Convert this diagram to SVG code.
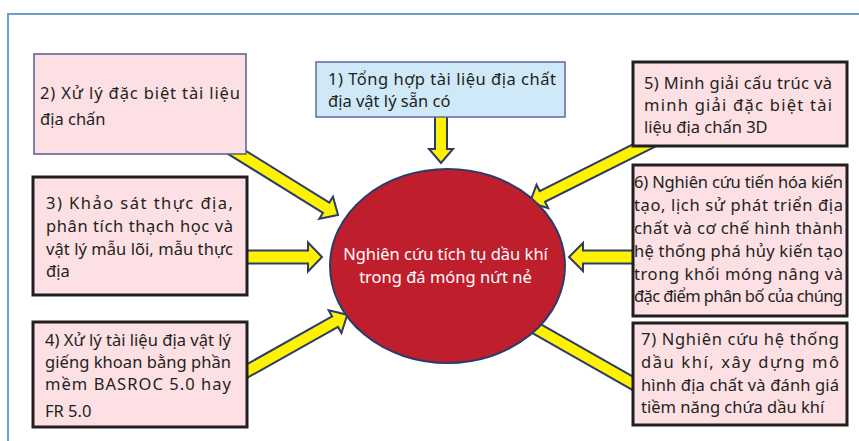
<svg xmlns="http://www.w3.org/2000/svg" width="859" height="441" viewBox="0 0 859 441">
<style>
text{font-family:"Noto Sans","DejaVu Sans",sans-serif;font-size:16.5px;fill:#231f20}
.pink{fill:#fde0e3}
.thick{stroke:#231f20;stroke-width:3}
.thin{stroke:#5d5a8c;stroke-width:1.5}
.arrow{fill:#fff200;stroke:#2b3c6b;stroke-width:2;stroke-linejoin:miter}
.white{fill:#ffffff}
</style>
<rect width="859" height="441" fill="#ffffff"/>
<path d="M8,441 V14 H859" fill="none" stroke="#6a9fd0" stroke-width="2"/>
<g id="connectors">
<polygon class="arrow" transform="translate(441,112) rotate(90)" points="0,-6 37,-6 37,-12 51,0 37,12 37,6 0,6"/>
<polygon class="arrow" transform="translate(225,145) rotate(31.8)" points="0,-6 119,-6 119,-13 133,0 119,13 119,6 0,6"/>
<polygon class="arrow" transform="translate(240,257) rotate(0)" points="0,-6.5 68,-6.5 68,-14.5 82,0 68,14.5 68,6.5 0,6.5"/>
<polygon class="arrow" transform="translate(240,375) rotate(-29.3)" points="0,-6 109,-6 109,-13 123,0 109,13 109,6 0,6"/>
<polygon class="arrow" transform="translate(655,140) rotate(153.4)" points="0,-6 126,-6 126,-13 140,0 126,13 126,6 0,6"/>
<polygon class="arrow" transform="translate(640,257) rotate(180)" points="0,-6.5 57,-6.5 57,-14 71,0 57,14 57,6.5 0,6.5"/>
<polygon class="arrow" transform="translate(641,388) rotate(209.6)" points="0,-6 126,-6 126,-13 140,0 126,13 126,6 0,6"/>
</g>
<g id="node-center">
<ellipse cx="447.5" cy="266" rx="117.5" ry="97" fill="#bf1e2d" stroke="#2b3c6b" stroke-width="2"/>
<text class="white" x="445.5" y="260" text-anchor="middle">Nghiên cứu tích tụ dầu khí</text>
<text class="white" x="445.5" y="283" text-anchor="middle">trong đá móng nứt nẻ</text>
</g>
<g id="node-1">
<rect x="316" y="62" width="249" height="55" fill="#cfe9f8" stroke="#5d6b9a" stroke-width="1.5"/>
<text x="328" y="85" textLength="228" lengthAdjust="spacing">1) Tổng hợp tài liệu địa chất</text>
<text x="328" y="107">địa vật lý sẵn có</text>
</g>
<g id="node-2">
<rect class="pink thin" x="34" y="54" width="212" height="100"/>
<text x="40" y="99" textLength="200" lengthAdjust="spacing">2) Xử lý đặc biệt tài liệu</text>
<text x="40" y="125">địa chấn</text>
</g>
<g id="node-3">
<rect class="pink thick" x="33" y="177" width="214" height="118"/>
<text x="46" y="209" textLength="187" lengthAdjust="spacing">3) Khảo sát thực địa,</text>
<text x="46" y="232" textLength="187" lengthAdjust="spacing">phân tích thạch học và</text>
<text x="46" y="255" textLength="187" lengthAdjust="spacing">vật lý mẫu lõi, mẫu thực</text>
<text x="46" y="277">địa</text>
</g>
<g id="node-4">
<rect class="pink thick" x="33" y="322" width="214" height="105"/>
<text x="45" y="346" textLength="186" lengthAdjust="spacing">4) Xử lý tài liệu địa vật lý</text>
<text x="45" y="368" textLength="186" lengthAdjust="spacing">giếng khoan bằng phần</text>
<text x="45" y="390" textLength="186" lengthAdjust="spacing">mềm BASROC 5.0 hay</text>
<text x="45" y="417">FR 5.0</text>
</g>
<g id="node-5">
<rect class="pink thick" x="633" y="62" width="214" height="84"/>
<text x="644" y="89" textLength="188" lengthAdjust="spacing">5) Minh giải cấu trúc và</text>
<text x="644" y="111" textLength="188" lengthAdjust="spacing">minh giải đặc biệt tài</text>
<text x="644" y="133">liệu địa chấn 3D</text>
</g>
<g id="node-6">
<rect class="pink thick" x="633" y="165" width="214" height="151"/>
<text x="634" y="188" textLength="209" lengthAdjust="spacing">6) Nghiên cứu tiến hóa kiến</text>
<text x="634" y="211" textLength="209" lengthAdjust="spacing">tạo, lịch sử phát triển địa</text>
<text x="634" y="234" textLength="209" lengthAdjust="spacing">chất và cơ chế hình thành</text>
<text x="634" y="257" textLength="209" lengthAdjust="spacing">hệ thống phá hủy kiến tạo</text>
<text x="634" y="280" textLength="209" lengthAdjust="spacing">trong khối móng nâng và</text>
<text x="634" y="302" textLength="209" lengthAdjust="spacing">đặc điểm phân bố của chúng</text>
</g>
<g id="node-7">
<rect class="pink thick" x="633" y="323" width="214" height="102"/>
<text x="641" y="345" textLength="198" lengthAdjust="spacing">7) Nghiên cứu hệ thống</text>
<text x="641" y="368" textLength="198" lengthAdjust="spacing">dầu khí, xây dựng mô</text>
<text x="641" y="391" textLength="198" lengthAdjust="spacing">hình địa chất và đánh giá</text>
<text x="641" y="413">tiềm năng chứa dầu khí</text>
</g>
</svg>
